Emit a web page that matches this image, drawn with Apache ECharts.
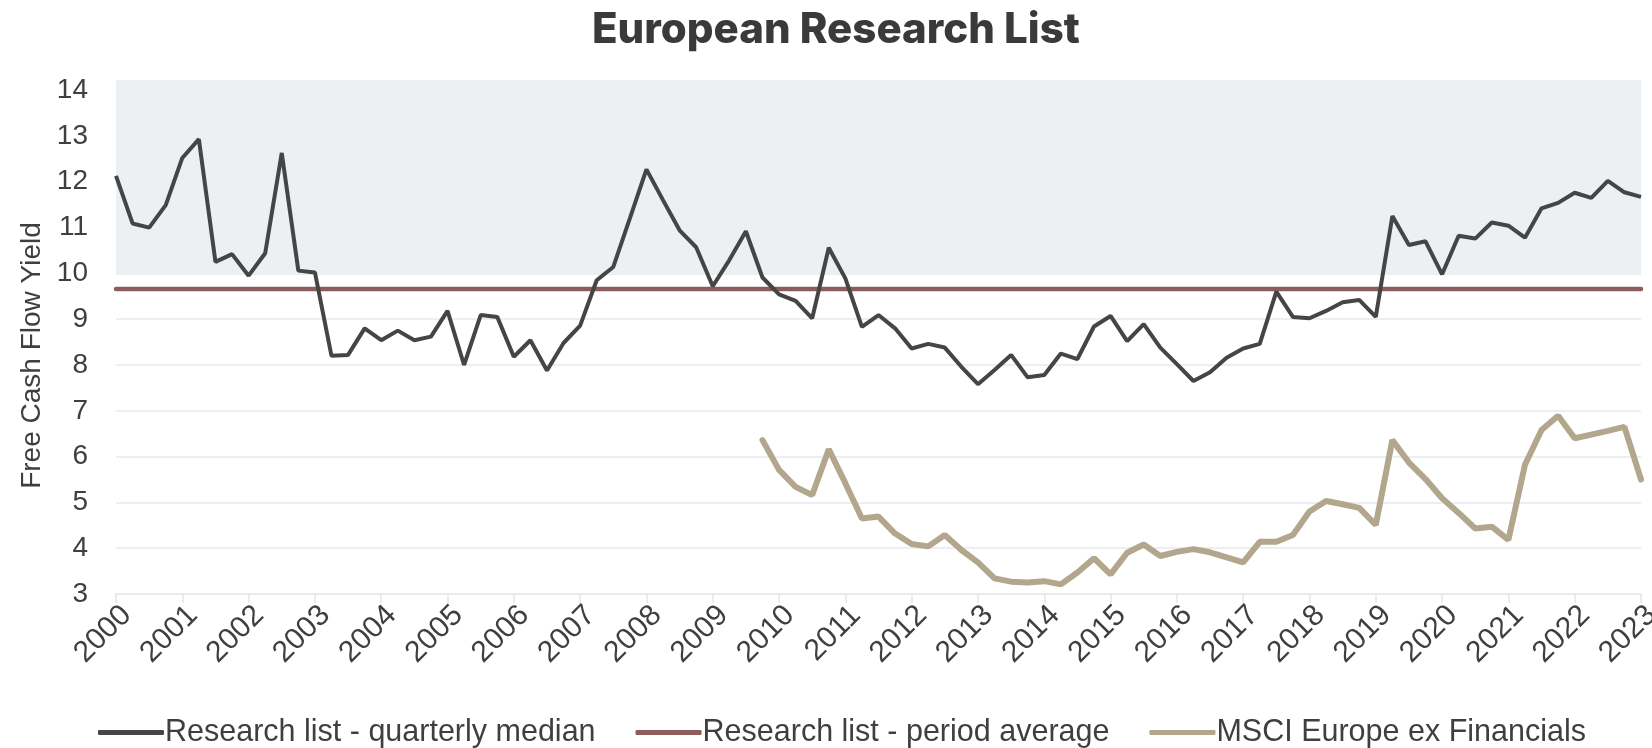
<!DOCTYPE html>
<html>
<head>
<meta charset="utf-8">
<script src="https://cdn.jsdelivr.net/npm/echarts@6/dist/echarts.min.js"></script>
<style>
  html, body { margin: 0; padding: 0; background: #ffffff; }
  #chart { width: 1652px; height: 748px; }
</style>
</head>
<body>
<div id="chart"></div>
<script>
// ---- Data (quarterly, 2000 Q1 .. 2023 Q1) ----
const FIRST_YEAR = 2000;
const LAST_YEAR = 2023;

const medianValues = [
  12.13, 11.09, 11.00, 11.49, 12.52, 12.93, 10.25, 10.42, 9.95, 10.44,
  12.63, 10.06, 10.02, 8.20, 8.22, 8.80, 8.54, 8.75, 8.54, 8.62,
  9.18, 8.00, 9.09, 9.05, 8.18, 8.54, 7.88, 8.48, 8.86, 9.85,
  10.14, 11.20, 12.27, 11.60, 10.94, 10.57, 9.72, 10.29, 10.92, 9.91,
  9.54, 9.40, 9.02, 10.56, 9.89, 8.83, 9.09, 8.80, 8.36, 8.46,
  8.38, 7.96, 7.58, 7.89, 8.22, 7.73, 7.78, 8.25, 8.13, 8.84,
  9.07, 8.52, 8.89, 8.38, 8.02, 7.65, 7.84, 8.16, 8.36, 8.46,
  9.60, 9.05, 9.02, 9.18, 9.37, 9.42, 9.05, 11.25, 10.62, 10.70,
  9.98, 10.82, 10.76, 11.11, 11.04, 10.78, 11.42, 11.54, 11.76, 11.65,
  12.02, 11.77, 11.67
];

const periodAverage = 9.66;

const msciValues = [
  null, null, null, null, null, null, null, null, null, null,
  null, null, null, null, null, null, null, null, null, null,
  null, null, null, null, null, null, null, null, null, null,
  null, null, null, null, null, null, null, null, null, 6.36,
  5.71, 5.34, 5.16, 6.16, 5.42, 4.65, 4.69, 4.32, 4.09, 4.04,
  4.29, 3.96, 3.69, 3.34, 3.27, 3.25, 3.28, 3.21, 3.47, 3.78,
  3.43, 3.90, 4.08, 3.83, 3.92, 3.98, 3.91, 3.80, 3.69, 4.14,
  4.14, 4.29, 4.80, 5.03, 4.96, 4.88, 4.51, 6.36, 5.87, 5.51,
  5.09, 4.77, 4.43, 4.47, 4.18, 5.82, 6.58, 6.89, 6.40, 6.48,
  6.56, 6.65, 5.50
];

// shaded band (upper range) and y-axis ticks
const shadeBand = [10, 14.2];
const yTicks = { min: 3, max: 14, interval: 1 };

const seriesNames = [
  'Research list - quarterly median',
  'Research list - period average',
  'MSCI Europe ex Financials'
];

// quarter categories
const categories = [];
for (let y = FIRST_YEAR; y <= LAST_YEAR; y++) {
  for (let q = 1; q <= 4; q++) {
    if (y === LAST_YEAR && q > 1) break;
    categories.push(q === 1 ? String(y) : y + ' Q' + q);
  }
}

const chart = echarts.init(document.getElementById('chart'), null, { renderer: 'canvas' });

const FONT = 'Liberation Sans, Arial, sans-serif';
const TEXT = '#3f3f3f';

chart.setOption({
  animation: false,
  backgroundColor: '#ffffff',
  title: {
    text: 'European Research List',
    left: 587,
    top: 4,
    textStyle: { fontFamily: 'Inter', fontWeight: 800, fontSize: 42, color: '#3a3a3a' }
  },
  legend: {
    top: 712,
    left: 93,
    itemWidth: 66,
    itemHeight: 5,
    itemGap: 40,
    icon: 'roundRect',
    textStyle: { fontFamily: FONT, fontSize: 30.5, color: TEXT, padding: [0, 0, 0, -4] },
    data: seriesNames
  },
  grid: { left: 116, right: 11, top: 81, bottom: 154, containLabel: false, outerBoundsMode: 'none' },
  xAxis: {
    type: 'category',
    data: categories,
    boundaryGap: false,
    axisLine: { show: true, lineStyle: { color: '#e8ebef', width: 2 } },
    axisTick: { show: true, interval: 3, length: 9, lineStyle: { color: '#e8ebef', width: 2 } },
    axisLabel: {
      interval: 3,
      rotate: 45,
      margin: 6,
      verticalAlign: 'top',
      fontFamily: FONT,
      fontSize: 30,
      color: TEXT,
      formatter: v => v.slice(0, 4)
    },
    splitLine: { show: false }
  },
  yAxis: {
    type: 'value',
    min: yTicks.min,
    max: shadeBand[1],
    interval: yTicks.interval,
    name: 'Free Cash Flow Yield',
    nameLocation: 'middle',
    nameGap: 69,
    nameTextStyle: { fontFamily: FONT, fontSize: 28, color: TEXT, padding: [0, 0, 0, -36] },
    axisLine: { show: false },
    axisTick: { show: false },
    axisLabel: {
      fontFamily: FONT, fontSize: 28, color: TEXT, margin: 28,
      formatter: v => (Number.isInteger(v) && v <= yTicks.max ? String(v) : '')
    },
    splitLine: { show: true, lineStyle: { color: '#eceff2', width: 2 } }
  },
  visualMap: {
    show: false,
    type: 'piecewise',
    seriesIndex: 0,
    dimension: 0,
    pieces: [
      { lt: 32, color: '#454545' },
      { gte: 32, lte: 33, color: '#0e2b47' },
      { gt: 33, color: '#454545' }
    ]
  },
  series: [
    {
      name: seriesNames[0],
      type: 'line',
      data: medianValues,
      showSymbol: false,
      symbol: 'none',
      color: '#454545',
      lineStyle: { width: 4, color: '#454545' },
      z: 4,
      markArea: {
        silent: true,
        itemStyle: { color: '#ecf0f3' },
        data: [[{ yAxis: shadeBand[0] }, { yAxis: shadeBand[1] }]]
      }
    },
    {
      name: seriesNames[1],
      type: 'line',
      data: [[categories[0], periodAverage], [categories[categories.length - 1], periodAverage]],
      showSymbol: false,
      symbol: 'none',
      color: '#8d5c5c',
      lineStyle: { width: 4.5, color: '#8d5c5c', cap: 'round' },
      z: 3
    },
    {
      name: seriesNames[2],
      type: 'line',
      data: msciValues,
      showSymbol: false,
      symbol: 'none',
      connectNulls: false,
      color: '#b2a78c',
      lineStyle: { width: 6, color: '#b2a78c', cap: 'round' },
      z: 3
    }
  ]
});
</script>
</body>
</html>
